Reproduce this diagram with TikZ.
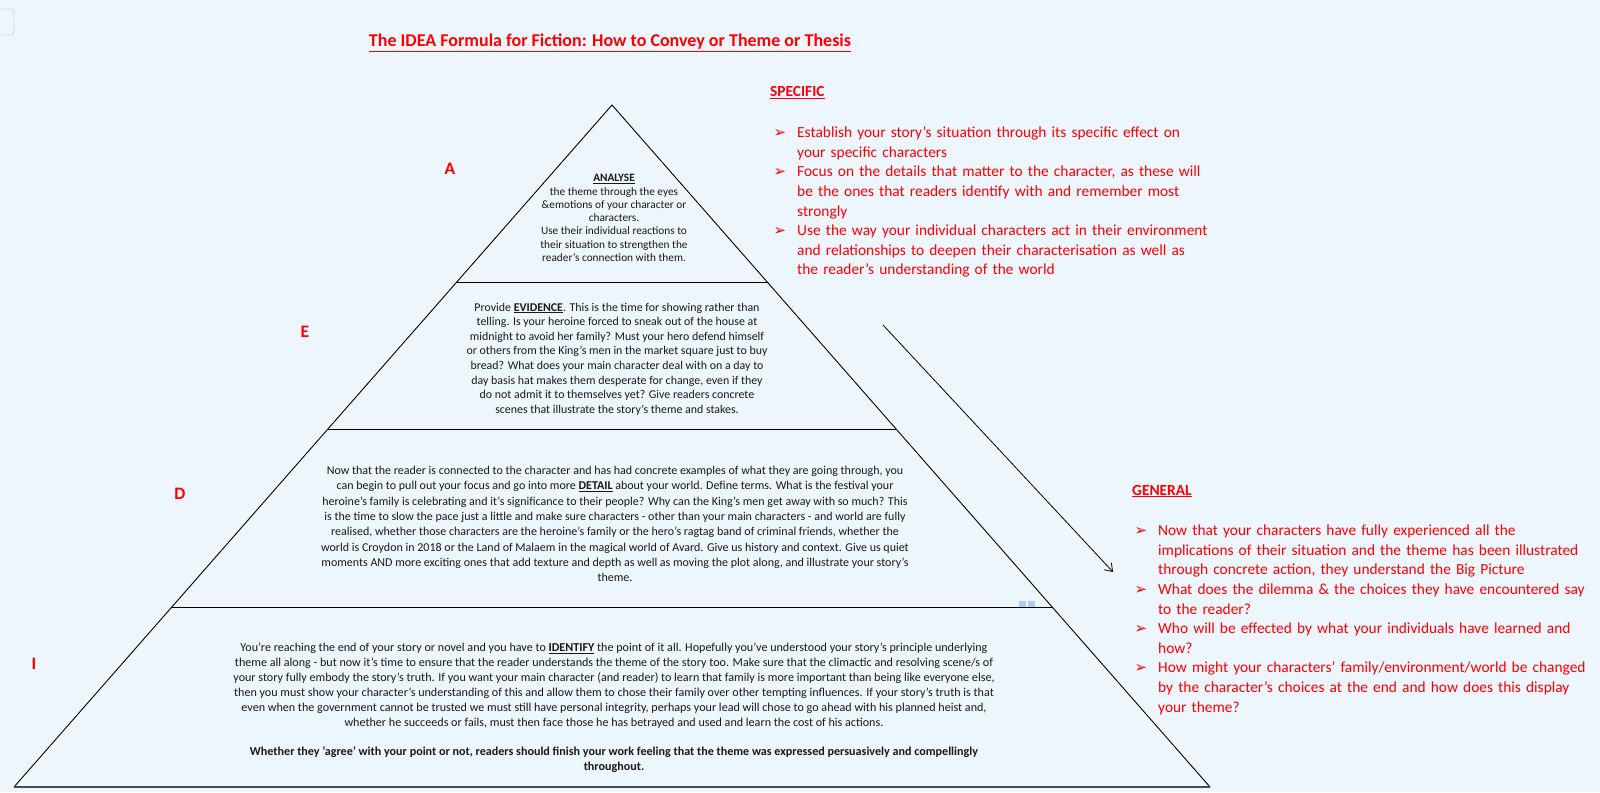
\documentclass[tikz,border=0pt]{standalone}
\usepackage{fontspec}
\setmainfont{Carlito}
\newfontfamily\symfont{DejaVu Sans}
\usepackage{enumitem}
\usetikzlibrary{arrows.meta,positioning}
\definecolor{paper}{RGB}{237,245,253}
\definecolor{idea}{RGB}{255,0,0}
\definecolor{ink}{RGB}{25,25,25}
\definecolor{tick}{RGB}{170,205,245}
\tikzset{
tier/.style={align=center,inner sep=0pt,text=ink},
tierletter/.style={text=idea,font=\fontsize{17.5}{20}\selectfont\bfseries,inner sep=0pt},
edge/.style={line width=.9pt,line cap=round},
heading/.style={text=idea,font=\fontsize{15.4}{17}\selectfont\bfseries,inner sep=0pt,anchor=west},
pointlist/.style={text=idea,text width=520pt,inner sep=0pt,font=\fontsize{15.4}{19.6}\selectfont},
arrow/.style={-{Straight Barb[length=7pt,width=10pt]},line width=.8pt}
}
\newcommand{\keyword}[1]{\textbf{\underline{#1}}}
\setlist[itemize]{label={\symfont\fontsize{15}{15}\selectfont ➢},leftmargin=21pt,labelsep=11pt,itemsep=0pt,topsep=0pt,parsep=0pt,partopsep=0pt}

\begin{document}
\begin{tikzpicture}[x=1pt,y=-1pt]
\fill[paper] (0,0) rectangle (1600,792);
\useasboundingbox (0,0) rectangle (1600,792);
\draw[gray!55,densely dotted,line width=.8pt,rounded corners=3pt] (-10,9) rectangle (14,35);

% title
\node[text=idea,font=\fontsize{18}{20}\selectfont\bfseries] (title) at (610,43) {\underline{The IDEA Formula for Fiction: How to Convey or Theme or Thesis}};

% pyramid
\coordinate (apex) at (612,105);
\coordinate (bl) at (14,787);
\coordinate (br) at (1210,787);
\draw[edge] (bl) -- (apex) -- (br);
\draw[edge] (457,282) -- (768,282);
\draw[edge] (328,429) -- (896,429);
\draw[edge] (172,607) -- (1052,607);
\draw[line width=1.8pt,gray!60!black] (bl) -- (br);

% tier letters
\node[tierletter] (lA) at (450,169) {A};
\node[tierletter] (lE) at (305,332) {E};
\node[tierletter] (lD) at (180,494) {D};
\node[tierletter] (lI) at (34,664) {I};

% tier texts
\node[tier,font=\fontsize{11.3}{13.3}\selectfont] (analyse) at (614,218) {\keyword{ANALYSE}\\
the theme through the eyes\\
\&emotions of your character or\\
characters.\\
Use their individual reactions to\\
their situation to strengthen the\\
reader's connection with them.};

\node[tier,font=\fontsize{11.9}{14.6}\selectfont] (evidence) at (617,359) {Provide \keyword{EVIDENCE}. This is the time for showing rather than\\
telling.  Is your heroine forced to sneak out of the house at\\
midnight to avoid her family? Must your hero defend himself\\
or others from the King's men in the market square just to buy\\
bread? What does your main character deal with on a day to\\
day basis hat makes them desperate for change, even if they\\
do not admit it to themselves yet? Give readers concrete\\
scenes that illustrate  the story's theme and stakes.};

\node[tier,font=\fontsize{12}{15.3}\selectfont] (detail) at (615,524) {Now that the reader is connected to the character and has had concrete examples of what they are going through,  you\\
can begin to pull out your focus and go into more \keyword{DETAIL} about your world. Define terms.  What is the festival your\\
heroine's family is  celebrating and it's significance to their people? Why can the King's men get away with so much? This\\
is the time to slow the pace just a little and make sure characters - other than your main characters - and world are fully\\
realised, whether those characters are the heroine's family or the hero's ragtag band of criminal friends, whether the\\
world is Croydon in 2018 or the Land of Malaem in the magical world of Avard. Give us history and context. Give us quiet\\
moments AND more exciting ones that add texture and depth as well as moving the plot along, and illustrate your story's\\
theme.};

\node[tier,font=\fontsize{12.1}{15}\selectfont] (identify) at (614,708) {You're reaching the end of your story or novel and you have to \keyword{IDENTIFY} the point of it all. Hopefully you've understood your story's principle underlying\\
theme all along - but now it's time to ensure that the reader understands the theme of the story too. Make sure that the climactic and resolving scene/s of\\
your story fully embody the story's truth.  If you want your main character (and reader) to learn that family is more important than being like everyone else,\\
then you must show your character's understanding of this and allow them to chose their family over other tempting influences. If your story's truth is that\\
even when the government cannot be trusted we must still have personal integrity, perhaps your lead will chose to go ahead with his planned heist and,\\
whether he succeeds or fails, must then face those he has betrayed and used and learn the cost of his actions.\\[14pt]
\textbf{Whether they 'agree' with your point or not, readers should finish your work feeling that the theme was expressed persuasively and compellingly}\\
\textbf{throughout.}};

% specific / general
\node[heading] (specific) at (770,93) {\underline{SPECIFIC}};
\node[pointlist,below right=18.5pt and 6pt of specific.south west] (specpts) {%
\begin{itemize}
\item Establish your story's situation through its specific effect on\newline your specific characters
\item Focus on the details that matter to the character, as these will\newline be the ones that readers identify with and remember most\newline strongly
\item Use the way your individual characters act in their environment\newline and relationships to deepen their characterisation  as well as\newline the reader's understanding of the world
\end{itemize}};

\node[heading] (general) at (1132,491) {\underline{GENERAL}};
\node[pointlist,below right=18.5pt and 5pt of general.south west] (genpts) {%
\begin{itemize}
\item Now that your characters have fully experienced all the\newline implications of their situation and the theme has been illustrated\newline through concrete action, they understand the Big Picture
\item What does the dilemma \& the choices they have encountered  say\newline to the reader?
\item Who will be effected by what your individuals have learned and\newline how?
\item How might your characters' family/environment/world  be changed\newline by the character's choices at the end and how does this display\newline your theme?
\end{itemize}};

\coordinate (flowstart) at (883,325);
\coordinate (flowend) at (1113,572);
\draw[arrow] (flowstart) -- (flowend);

\fill[tick] (1019,601) rectangle (1026,607);
\fill[tick] (1028,601) rectangle (1035,607);
\end{tikzpicture}
\end{document}
